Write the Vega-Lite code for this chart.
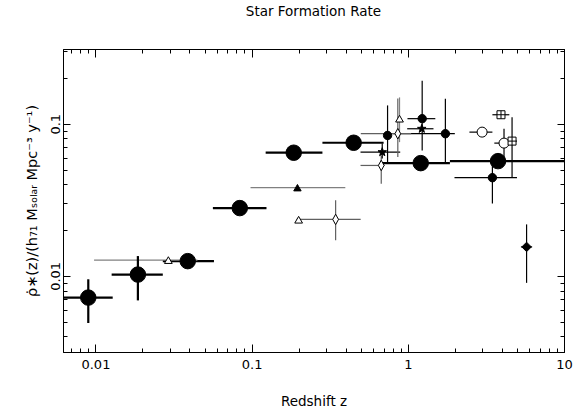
{
  "$schema": "https://vega.github.io/schema/vega-lite/v6.json",
  "width": 501,
  "height": 303,
  "autosize": {"type": "none"},
  "padding": {"left": 63, "top": 49, "right": 19, "bottom": 57},
  "title": {"text": "Star Formation Rate", "font": "DejaVu Sans", "fontSize": 13.5, "fontWeight": "normal", "color": "black", "offset": 30, "anchor": "middle"},
  "config": {
    "view": {"stroke": "black", "strokeWidth": 1},
    "axis": {"domainColor": "black", "tickColor": "black", "labelColor": "black", "titleColor": "black", "labelFont": "DejaVu Sans", "titleFont": "DejaVu Sans", "labelFontSize": 13, "titleFontSize": 13.5, "titleFontWeight": "normal", "grid": false, "labelOverlap": false, "labelFlush": false, "tickWidth": 1}
  },
  "data": {"values": [
    {"series": "big circle", "z": 0.009, "zlo": 0.005, "zhi": 0.0129, "sfr": 0.0072, "sfrlo": 0.0049, "sfrhi": 0.0095},
    {"series": "big circle", "z": 0.0187, "zlo": 0.0127, "zhi": 0.027, "sfr": 0.0102, "sfrlo": 0.0069, "sfrhi": 0.0135},
    {"series": "big circle", "z": 0.039, "zlo": 0.027, "zhi": 0.0574, "sfr": 0.0125, "sfrlo": null, "sfrhi": null},
    {"series": "big circle", "z": 0.084, "zlo": 0.0565, "zhi": 0.1245, "sfr": 0.0279, "sfrlo": null, "sfrhi": null},
    {"series": "big circle", "z": 0.186, "zlo": 0.123, "zhi": 0.284, "sfr": 0.0645, "sfrlo": null, "sfrhi": null},
    {"series": "big circle", "z": 0.45, "zlo": 0.284, "zhi": 0.7, "sfr": 0.075, "sfrlo": null, "sfrhi": null},
    {"series": "big circle", "z": 1.21, "zlo": 0.69, "zhi": 1.86, "sfr": 0.0551, "sfrlo": null, "sfrhi": null},
    {"series": "big circle", "z": 3.78, "zlo": 1.86, "zhi": 12, "sfr": 0.0568, "sfrlo": null, "sfrhi": null},
    {"series": "small circle", "z": 0.742, "zlo": null, "zhi": null, "sfr": 0.0838, "sfrlo": 0.0549, "sfrhi": 0.132},
    {"series": "small circle", "z": 1.236, "zlo": 0.995, "zhi": 1.5, "sfr": 0.108, "sfrlo": 0.0668, "sfrhi": 0.192},
    {"series": "small circle", "z": 1.74, "zlo": 0.8, "zhi": 2.0, "sfr": 0.086, "sfrlo": 0.056, "sfrhi": 0.146},
    {"series": "small circle", "z": 3.48, "zlo": 1.99, "zhi": 5.0, "sfr": 0.0442, "sfrlo": 0.0299, "sfrhi": 0.0549},
    {"series": "filled diamond", "z": 5.76, "zlo": 5.3, "zhi": 6.25, "sfr": 0.0155, "sfrlo": 0.009, "sfrhi": 0.0218},
    {"series": "filled triangle", "z": 0.1965, "zlo": 0.0984, "zhi": 0.398, "sfr": 0.038, "sfrlo": null, "sfrhi": null},
    {"series": "open triangle", "z": 0.0293, "zlo": 0.0098, "zhi": 0.045, "sfr": 0.0127, "sfrlo": null, "sfrhi": null},
    {"series": "open triangle", "z": 0.2, "zlo": null, "zhi": null, "sfr": 0.0234, "sfrlo": null, "sfrhi": null},
    {"series": "open triangle", "z": 0.885, "zlo": null, "zhi": null, "sfr": 0.108, "sfrlo": 0.0757, "sfrhi": 0.149},
    {"series": "open diamond", "z": 0.345, "zlo": 0.194, "zhi": 0.499, "sfr": 0.0235, "sfrlo": 0.01715, "sfrhi": 0.0314},
    {"series": "open diamond", "z": 0.863, "zlo": 0.5, "zhi": 1.05, "sfr": 0.086, "sfrlo": 0.0604, "sfrhi": 0.1466},
    {"series": "open diamond", "z": 0.676, "zlo": 0.498, "zhi": 0.71, "sfr": 0.0532, "sfrlo": 0.0404, "sfrhi": 0.0619},
    {"series": "star", "z": 0.686, "zlo": 0.498, "zhi": 0.894, "sfr": 0.0651, "sfrlo": 0.0592, "sfrhi": 0.0742},
    {"series": "star", "z": 1.229, "zlo": 0.991, "zhi": 1.46, "sfr": 0.0927, "sfrlo": null, "sfrhi": null},
    {"series": "open circle", "z": 2.99, "zlo": 2.48, "zhi": 3.48, "sfr": 0.0881, "sfrlo": null, "sfrhi": null},
    {"series": "open circle", "z": 4.13, "zlo": 3.58, "zhi": 4.67, "sfr": 0.0746, "sfrlo": 0.0574, "sfrhi": 0.0927},
    {"series": "crossed square", "z": 3.95, "zlo": 3.48, "zhi": 4.47, "sfr": 0.1146, "sfrlo": null, "sfrhi": null},
    {"series": "crossed square", "z": 4.65, "zlo": 4.15, "zhi": 5.0, "sfr": 0.0769, "sfrlo": 0.0442, "sfrhi": 0.1105}
  ]},
  "resolve": {"axis": {"x": "independent", "y": "independent"}},
  "layer": [
    {
      "transform": [{"filter": "datum.zlo != null"}],
      "mark": {"type": "rule", "clip": true},
      "encoding": {
        "x": {"field": "zlo", "type": "quantitative",
          "scale": {"type": "log", "domain": [0.0062, 10], "nice": false},
          "axis": {"orient": "bottom", "title": "Redshift z", "titlePadding": 19,
            "values": [0.007, 0.008, 0.009, 0.01, 0.02, 0.03, 0.04, 0.05, 0.06, 0.07, 0.08, 0.09, 0.1, 0.2, 0.3, 0.4, 0.5, 0.6, 0.7, 0.8, 0.9, 1, 2, 3, 4, 5, 6, 7, 8, 9, 10],
            "format": "~g",
            "labelExpr": "indexof([0.01, 0.1, 1, 10], datum.value) >= 0 ? datum.label : ''",
            "tickSize": {"condition": {"test": "indexof([0.01, 0.1, 1, 10], datum.value) >= 0", "value": -8}, "value": -4},
            "labelPadding": 14}},
        "x2": {"field": "zhi"},
        "y": {"field": "sfr", "type": "quantitative",
          "scale": {"type": "log", "domain": [0.00316, 0.31], "nice": false},
          "axis": {"orient": "left", "title": "ρ̇∗(z)/(h₇₁  Mₛₒₗₐᵣ  Mpc⁻³  y⁻¹)", "titlePadding": 7, "titleFontSize": 14.5,
            "values": [0.004, 0.005, 0.006, 0.007, 0.008, 0.009, 0.01, 0.02, 0.03, 0.04, 0.05, 0.06, 0.07, 0.08, 0.09, 0.1, 0.2, 0.3],
            "format": "~g",
            "labelExpr": "indexof([0.01, 0.1], datum.value) >= 0 ? datum.label : ''",
            "labelAngle": 270, "labelAlign": "center", "labelBaseline": "bottom",
            "tickSize": {"condition": {"test": "indexof([0.01, 0.1], datum.value) >= 0", "value": -7}, "value": -4},
            "labelPadding": 8}},
        "color": {"field": "series", "type": "nominal", "legend": null,
          "scale": {"domain": ["big circle", "small circle", "filled diamond", "filled triangle", "open triangle", "open diamond", "star", "open circle", "crossed square"],
                    "range": ["black", "black", "black", "#808080", "#808080", "#606060", "black", "black", "black"]}},
        "strokeWidth": {"field": "series", "type": "nominal", "legend": null,
          "scale": {"type": "ordinal", "domain": ["big circle", "small circle", "filled diamond", "filled triangle", "open triangle", "open diamond", "star", "open circle", "crossed square"],
                    "range": [2.2, 1.2, 1.2, 1.2, 1.2, 1.2, 1.2, 1.2, 1.2]}}
      }
    },
    {
      "transform": [{"filter": "datum.sfrlo != null"}],
      "mark": {"type": "rule", "clip": true},
      "encoding": {
        "x": {"field": "z", "type": "quantitative",
          "scale": {"type": "log", "domain": [0.0062, 10], "nice": false},
          "axis": {"orient": "top", "title": null, "labels": false,
            "values": [0.007, 0.008, 0.009, 0.01, 0.02, 0.03, 0.04, 0.05, 0.06, 0.07, 0.08, 0.09, 0.1, 0.2, 0.3, 0.4, 0.5, 0.6, 0.7, 0.8, 0.9, 1, 2, 3, 4, 5, 6, 7, 8, 9, 10],
            "tickSize": {"condition": {"test": "indexof([0.01, 0.1, 1, 10], datum.value) >= 0", "value": -8}, "value": -4}}},
        "y": {"field": "sfrlo", "type": "quantitative",
          "scale": {"type": "log", "domain": [0.00316, 0.31], "nice": false},
          "axis": {"orient": "right", "title": null, "labels": false,
            "values": [0.004, 0.005, 0.006, 0.007, 0.008, 0.009, 0.01, 0.02, 0.03, 0.04, 0.05, 0.06, 0.07, 0.08, 0.09, 0.1, 0.2, 0.3],
            "tickSize": {"condition": {"test": "indexof([0.01, 0.1], datum.value) >= 0", "value": -7}, "value": -4}}},
        "y2": {"field": "sfrhi"},
        "color": {"field": "series", "type": "nominal", "legend": null,
          "scale": {"domain": ["big circle", "small circle", "filled diamond", "filled triangle", "open triangle", "open diamond", "star", "open circle", "crossed square"],
                    "range": ["black", "black", "black", "#808080", "#808080", "#606060", "black", "black", "black"]}},
        "strokeWidth": {"field": "series", "type": "nominal", "legend": null,
          "scale": {"type": "ordinal", "domain": ["big circle", "small circle", "filled diamond", "filled triangle", "open triangle", "open diamond", "star", "open circle", "crossed square"],
                    "range": [2.2, 1.2, 1.2, 1.2, 1.2, 1.2, 1.2, 1.2, 1.2]}}
      }
    },
    {
      "mark": {"type": "point", "filled": true, "stroke": "black", "strokeWidth": 1, "opacity": 1, "clip": true},
      "encoding": {
        "x": {"field": "z", "type": "quantitative", "axis": null},
        "y": {"field": "sfr", "type": "quantitative", "axis": null},
        "shape": {"field": "series", "type": "nominal", "legend": null,
          "scale": {"domain": ["big circle", "small circle", "filled diamond", "filled triangle", "open triangle", "open diamond", "star", "open circle", "crossed square"],
                    "range": ["circle", "circle", "diamond", "triangle-up", "triangle-up", "M0,-1L0.55,0L0,1L-0.55,0Z", "M0,-1L0.235,-0.324L0.951,-0.309L0.38,0.124L0.588,0.809L0,0.4L-0.588,0.809L-0.38,0.124L-0.951,-0.309L-0.235,-0.324Z", "circle", "M-1,-1L1,-1L1,1L-1,1Z M0,-1L0,1 M-1,0L1,0"]}},
        "fill": {"field": "series", "type": "nominal", "legend": null,
          "scale": {"domain": ["big circle", "small circle", "filled diamond", "filled triangle", "open triangle", "open diamond", "star", "open circle", "crossed square"],
                    "range": ["black", "black", "black", "black", "white", "white", "black", "white", "white"]}},
        "size": {"field": "series", "type": "nominal", "legend": null,
          "scale": {"type": "ordinal", "domain": ["big circle", "small circle", "filled diamond", "filled triangle", "open triangle", "open diamond", "star", "open circle", "crossed square"],
                    "range": [240, 70, 90, 55, 60, 110, 80, 100, 64]}}
      }
    }
  ]
}
